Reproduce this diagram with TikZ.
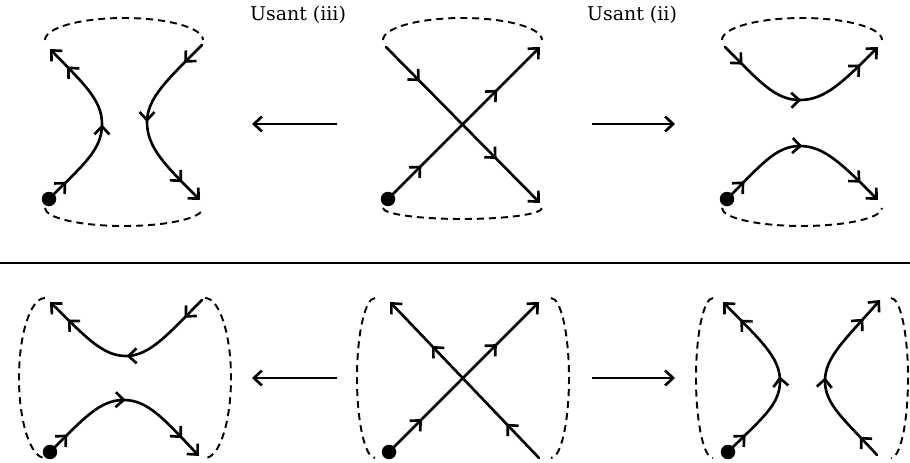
\documentclass[tikz,border=0pt]{standalone}
\usepackage{fontspec}
\setmainfont{DejaVu Serif}
\usetikzlibrary{arrows.meta,decorations.markings}

\begin{document}
\begin{tikzpicture}[x=0.02cm,y=-0.02cm,
  chev/.tip={Straight Barb[length=1.6mm,width=3mm]},
  strand/.style={line width=1.5pt,-{chev},line cap=round},
  rim/.style={line width=1.1pt,dash pattern=on 1.4mm off 1mm},
  tri/.style={postaction={decorate},decoration={markings,
      mark=at position 0.13 with {\arrow{chev}},
      mark=at position 0.5 with {\arrow{chev}},
      mark=at position 0.87 with {\arrow{chev}}}},
  duo/.style={postaction={decorate},decoration={markings,
      mark=at position 0.22 with {\arrow{chev}},
      mark=at position 0.72 with {\arrow{chev}}}},
  dot/.style={circle,fill,inner sep=0pt,minimum size=0.29cm},
  move/.style={line width=1.5pt,-{chev}},
  lbl/.style={font=\fontsize{10.8}{13}\selectfont}
]
\useasboundingbox (0,0) rectangle (910,463);

% ---------- labels and moves, upper row ----------
\node[lbl] (t3) at (298,15) {Usant (iii)};
\node[lbl] (t2) at (632,15) {Usant (ii)};
\coordinate (mL1) at (337,124); \coordinate (mL2) at (252,124);
\coordinate (mR1) at (592,124); \coordinate (mR2) at (675,124);
\draw[move] (mL1) -- (mL2);
\draw[move] (mR1) -- (mR2);

% ---------- upper left: two bent strands ----------
\draw[rim] (45,40) arc[start angle=180,end angle=360,x radius=79,y radius=22];
\draw[rim] (45,208) arc[start angle=180,end angle=0,x radius=79,y radius=18];
\node[dot] (d1) at (49,199) {};
\coordinate (a1) at (50,49);
\coordinate (b1) at (202,45);
\coordinate (c1) at (200,200);
\draw[strand,tri] (d1.center) .. controls (84,164) and (102,150) .. (102,124)
      .. controls (102,100) and (84,84) .. (a1);
\draw[strand,tri] (b1) .. controls (168,79) and (147,98) .. (147,122)
      .. controls (147,148) and (166,166) .. (c1);

% ---------- upper middle: crossing ----------
\draw[rim] (383,40) arc[start angle=180,end angle=360,x radius=79.5,y radius=22];
\draw[rim] (383,208) arc[start angle=180,end angle=0,x radius=79.5,y radius=11];
\node[dot] (d2) at (388,199) {};
\coordinate (a2) at (540,47);
\coordinate (b2) at (386,47);
\coordinate (c2) at (540,203);
\draw[strand,duo] (d2.center) -- (a2);
\draw[strand,duo] (b2) -- (c2);

% ---------- upper right: cup and cap ----------
\draw[rim] (722,40) arc[start angle=180,end angle=360,x radius=80,y radius=22];
\draw[rim] (722,208) arc[start angle=180,end angle=0,x radius=80,y radius=18];
\node[dot] (d3) at (727,199) {};
\coordinate (a3) at (725,47);
\coordinate (b3) at (878,47);
\coordinate (c3) at (878,200);
\draw[strand,tri] (a3) .. controls (760,82) and (775,100) .. (800,100)
      .. controls (825,100) and (843,82) .. (b3);
\draw[strand,tri] (d3.center) .. controls (762,164) and (776,146) .. (800,146)
      .. controls (824,146) and (842,164) .. (c3);

% ---------- separator ----------
\coordinate (s1) at (0,263); \coordinate (s2) at (910,263);
\draw[line width=0.9pt] (s1) -- (s2);

% ---------- moves, lower row ----------
\coordinate (nL1) at (337,378); \coordinate (nL2) at (252,378);
\coordinate (nR1) at (592,378); \coordinate (nR2) at (675,378);
\draw[move] (nL1) -- (nL2);
\draw[move] (nR1) -- (nR2);

% ---------- lower left: cap over cup ----------
\draw[rim] (45,298) arc[start angle=270,end angle=90,x radius=26,y radius=80];
\draw[rim] (205,298) arc[start angle=-90,end angle=90,x radius=26,y radius=80];
\node[dot] (d4) at (50,452) {};
\coordinate (a4) at (50,302);
\coordinate (b4) at (202,300);
\coordinate (c4) at (199,456);
\draw[strand,tri] (b4) .. controls (168,334) and (150,356) .. (126,356)
      .. controls (102,356) and (85,336) .. (a4);
\draw[strand,tri] (d4.center) .. controls (85,417) and (100,400) .. (124,400)
      .. controls (148,400) and (165,420) .. (c4);

% ---------- lower middle: crossing ----------
\draw[rim] (375,298) arc[start angle=270,end angle=90,x radius=18,y radius=80];
\draw[rim] (551,298) arc[start angle=-90,end angle=90,x radius=18,y radius=80];
\node[dot] (d5) at (389,452) {};
\coordinate (a5) at (539,302);
\coordinate (b5) at (539,458);
\coordinate (c5) at (390,302);
\draw[strand,duo] (d5.center) -- (a5);
\draw[strand,duo] (b5) -- (c5);

% ---------- lower right: two bent strands ----------
\draw[rim] (713,298) arc[start angle=270,end angle=90,x radius=17,y radius=80];
\draw[rim] (891,298) arc[start angle=-90,end angle=90,x radius=17,y radius=80];
\node[dot] (d6) at (728,452) {};
\coordinate (a6) at (723,302);
\coordinate (b6) at (877,455);
\coordinate (c6) at (880,300);
\draw[strand,tri] (d6.center) .. controls (762,418) and (780,405) .. (780,381)
      .. controls (780,357) and (760,340) .. (a6);
\draw[strand,tri] (b6) .. controls (845,420) and (825,405) .. (825,381)
      .. controls (825,357) and (845,340) .. (c6);
\end{tikzpicture}
\end{document}
